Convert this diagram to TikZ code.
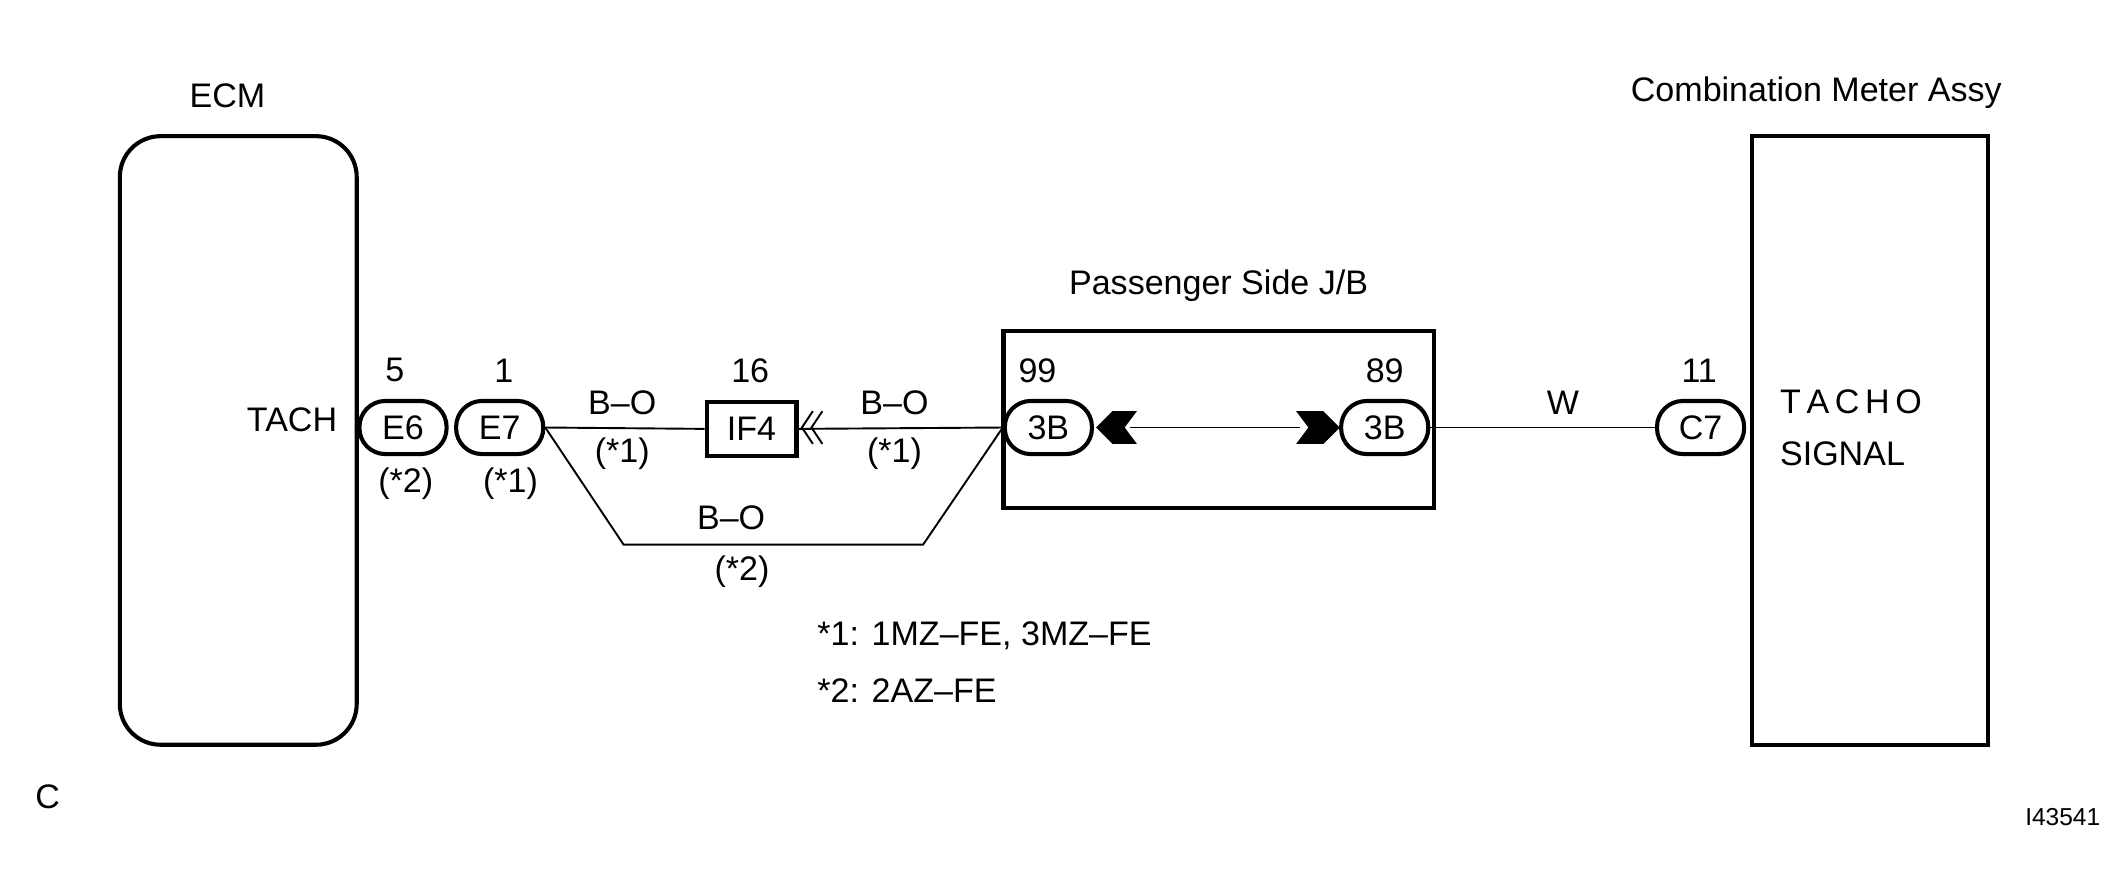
\documentclass[tikz,border=0pt]{standalone}
\usepackage{fontspec}
\setmainfont{Liberation Sans}
\begin{document}
\begin{tikzpicture}[x=0.5pt,y=-0.5pt,
  every node/.style={font=\fontsize{12.5}{14}\selectfont,inner sep=0pt},
  pill/.style={draw,line width=1.5pt,rounded corners=9.5pt,minimum width=32pt,minimum height=19.5pt},
  wire/.style={line width=0.7pt},
  thick box/.style={draw,line width=1.5pt}]
\useasboundingbox (0,0) rectangle (1560,657);
% ECM
\node (ecm) at (167,70) {ECM};
\draw[thick box,rounded corners=15pt] (88,100) rectangle (262,547);
\node[anchor=east] (tach) at (248,308) {TACH};
\node[pill] (e6) at (296,314) {E6};
\node[pill] (e7) at (367,314) {E7};
\node (n5) at (290,272) {5};
\node (n1) at (370,272) {1};
\node (s2a) at (298,355) {(*2)};
\node (s1a) at (375,355) {(*1)};
% IF4
\node[thick box,minimum width=33pt,minimum height=20pt] (if4) at (552,315) {IF4};
\node (n16) at (551,272) {16};
\node (bo1) at (457,296) {B--O};
\node (bo1s) at (457,333) {(*1)};
\node (bo2) at (657,296) {B--O};
\node (bo2s) at (657,333) {(*1)};
\node (bo3) at (537,380) {B--O};
\node (bo3s) at (545,420) {(*2)};
% J/B
\node (jbl) at (895,210) {Passenger Side J/B};
\draw[thick box] (737,243) rectangle (1053,373);
\node[pill] (b1) at (770,314) {3B};
\node[pill] (b2) at (1017,314) {3B};
\node (n99) at (762,272) {99};
\node (n89) at (1017,272) {89};
% C7 and meter
\node (cml) at (1334,68) {Combination Meter Assy};
\draw[thick box] (1287,100) rectangle (1460,547);
\node[pill] (c7) at (1249,314) {C7};
\node (n11) at (1248,272) {11};
\node (w) at (1148,296) {W};
\node[anchor=west] (ts1) at (1307,295) {T\,A\,C\,H\,O};
\node[anchor=west] (ts2) at (1307,333) {SIGNAL};
% wires
\coordinate (k1) at (458,400);
\coordinate (k2) at (678,400);
\draw[wire] (e7.east) -- (if4.west);
\draw[wire] (b1.west) -- (if4.east);
\draw[wire] (e7.east) -- (k1) -- (k2) -- (b1.west);
\draw[wire] (b2.east) -- (c7.west);
\draw[wire] (830,314) -- (955,314);
\draw[wire] (597,302) -- (589,314) -- (597,326);
\draw[wire] (604,302) -- (596,314) -- (604,326);
\fill (805,314) -- (817,302) -- (835,302) -- (826,314) -- (835,326) -- (817,326) -- cycle;
\fill (984,314) -- (972,302) -- (952,302) -- (961,314) -- (952,326) -- (972,326) -- cycle;
% notes
\node[anchor=west] (note1) at (600,467) {*1: 1MZ--FE, 3MZ--FE};
\node[anchor=west] (note2) at (600,507) {*2: 2AZ--FE};
\node (c) at (35,585) {C};
\node[font=\fontsize{9}{10}\selectfont] (id) at (1515,600) {I43541};
\end{tikzpicture}
\end{document}
